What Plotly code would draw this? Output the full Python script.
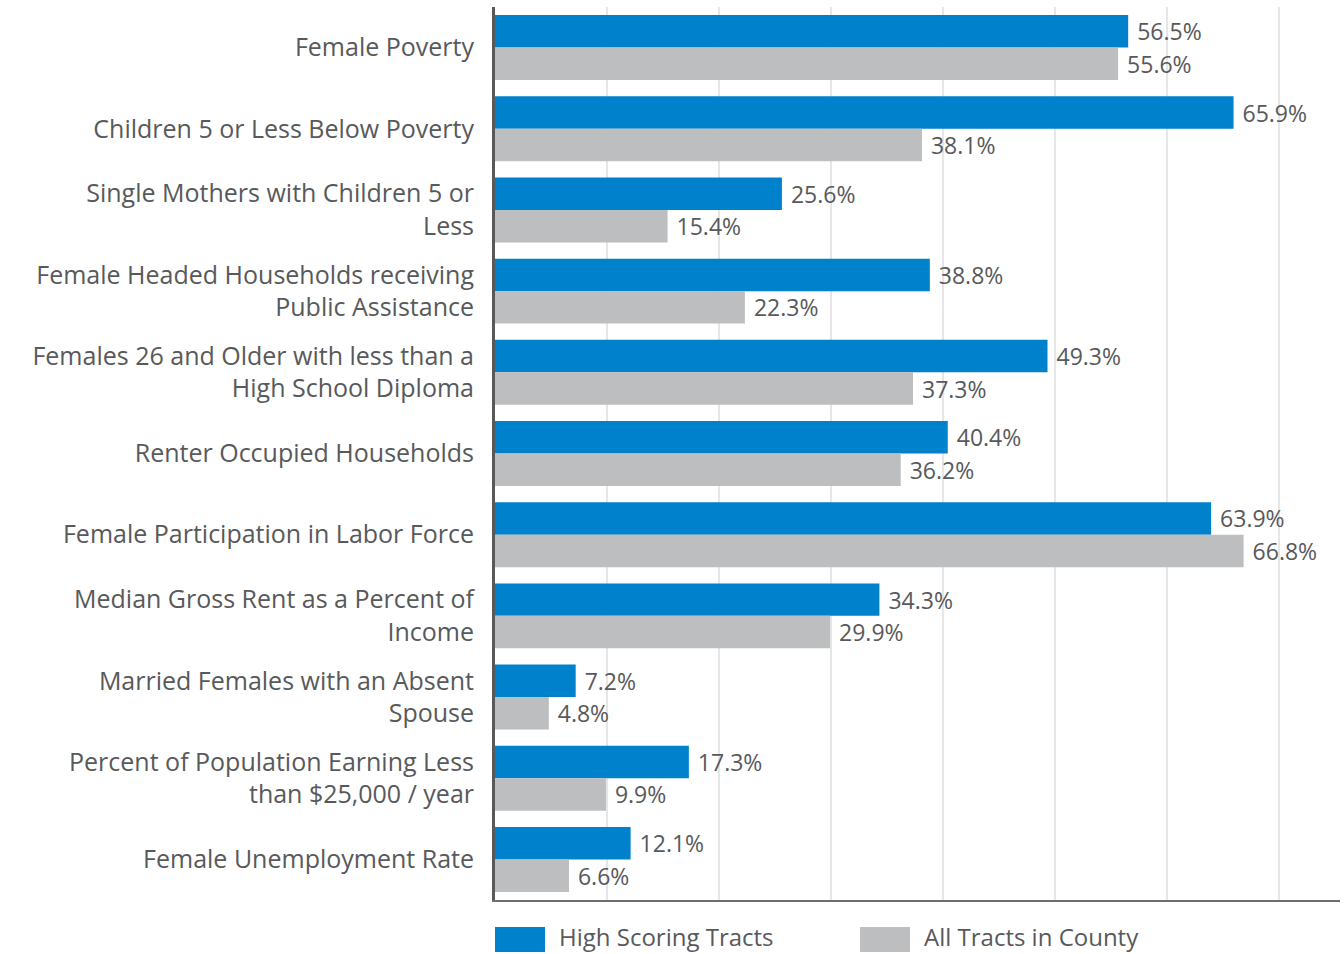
import plotly.graph_objects as go

categories = [
    "Female Poverty",
    "Children 5 or Less Below Poverty",
    "Single Mothers with Children 5 or<br>Less",
    "Female Headed Households receiving<br>Public Assistance",
    "Females 26 and Older with less than a<br>High School Diploma",
    "Renter Occupied Households",
    "Female Participation in Labor Force",
    "Median Gross Rent as a Percent of<br>Income",
    "Married Females with an Absent<br>Spouse",
    "Percent of Population Earning Less<br>than $25,000 / year",
    "Female Unemployment Rate",
]
high_scoring = [56.5, 65.9, 25.6, 38.8, 49.3, 40.4, 63.9, 34.3, 7.2, 17.3, 12.1]
all_tracts = [55.6, 38.1, 15.4, 22.3, 37.3, 36.2, 66.8, 29.9, 4.8, 9.9, 6.6]
series_names = ["High Scoring Tracts", "All Tracts in County"]

BLUE = "#0081CC"
GRAY = "#BDBEC0"
TEXT = "#58595B"
FONT = "Open Sans"

fig = go.Figure()
for name, vals, col in [(series_names[0], high_scoring, BLUE), (series_names[1], all_tracts, GRAY)]:
    fig.add_trace(go.Bar(
        y=categories, x=vals, name=name, orientation="h",
        marker=dict(color=col, line=dict(width=0)),
        text=["\u00a0" + f"{v:.1f}%" for v in vals],
        textposition="outside", cliponaxis=False,
        textfont=dict(family=FONT, size=23, color=TEXT),
        showlegend=False,
    ))

W, H = 1344, 954
ml, mr, mt, mb = 495, 4, 7, 54
pw, ph = W - ml - mr, H - mt - mb

fig.update_layout(
    width=W, height=H,
    margin=dict(l=ml, r=mr, t=mt, b=mb, autoexpand=False),
    barmode="group", bargap=0.2, bargroupgap=0,
    plot_bgcolor="white", paper_bgcolor="white",
    font=dict(family=FONT, size=24, color=TEXT),
)
fig.update_xaxes(
    range=[0, 75.4], dtick=10, showgrid=True, gridcolor="#E6E6E6", gridwidth=2,
    showticklabels=False, zeroline=False,
    showline=True, linecolor="#6D6E70", linewidth=2,
)
fig.update_yaxes(
    autorange="reversed", showgrid=False,
    showline=True, linecolor="#58595B", linewidth=3,
    ticks="", ticklabelstandoff=13,
    tickfont=dict(family=FONT, size=25, color=TEXT),
)

# custom legend
legend_items = [(series_names[0], BLUE, 495), (series_names[1], GRAY, 860)]
for name, col, px0 in legend_items:
    x0 = (px0 - ml) / pw
    x1 = (px0 + 50 - ml) / pw
    fig.add_shape(type="rect", xref="paper", yref="paper",
                  x0=x0, x1=x1, y0=-(952 - (H - mb)) / ph, y1=-(927 - (H - mb)) / ph,
                  fillcolor=col, line=dict(width=0))
    fig.add_annotation(xref="paper", yref="paper", x=(px0 + 62 - ml) / pw,
                       y=-(937 - (H - mb)) / ph, text=name, showarrow=False,
                       xanchor="left", yanchor="middle",
                       font=dict(family=FONT, size=24, color=TEXT))

fig.write_html("out.html", config={"displayModeBar": False},
               post_script="document.body.style.margin='0';document.body.style.overflow='hidden';")
